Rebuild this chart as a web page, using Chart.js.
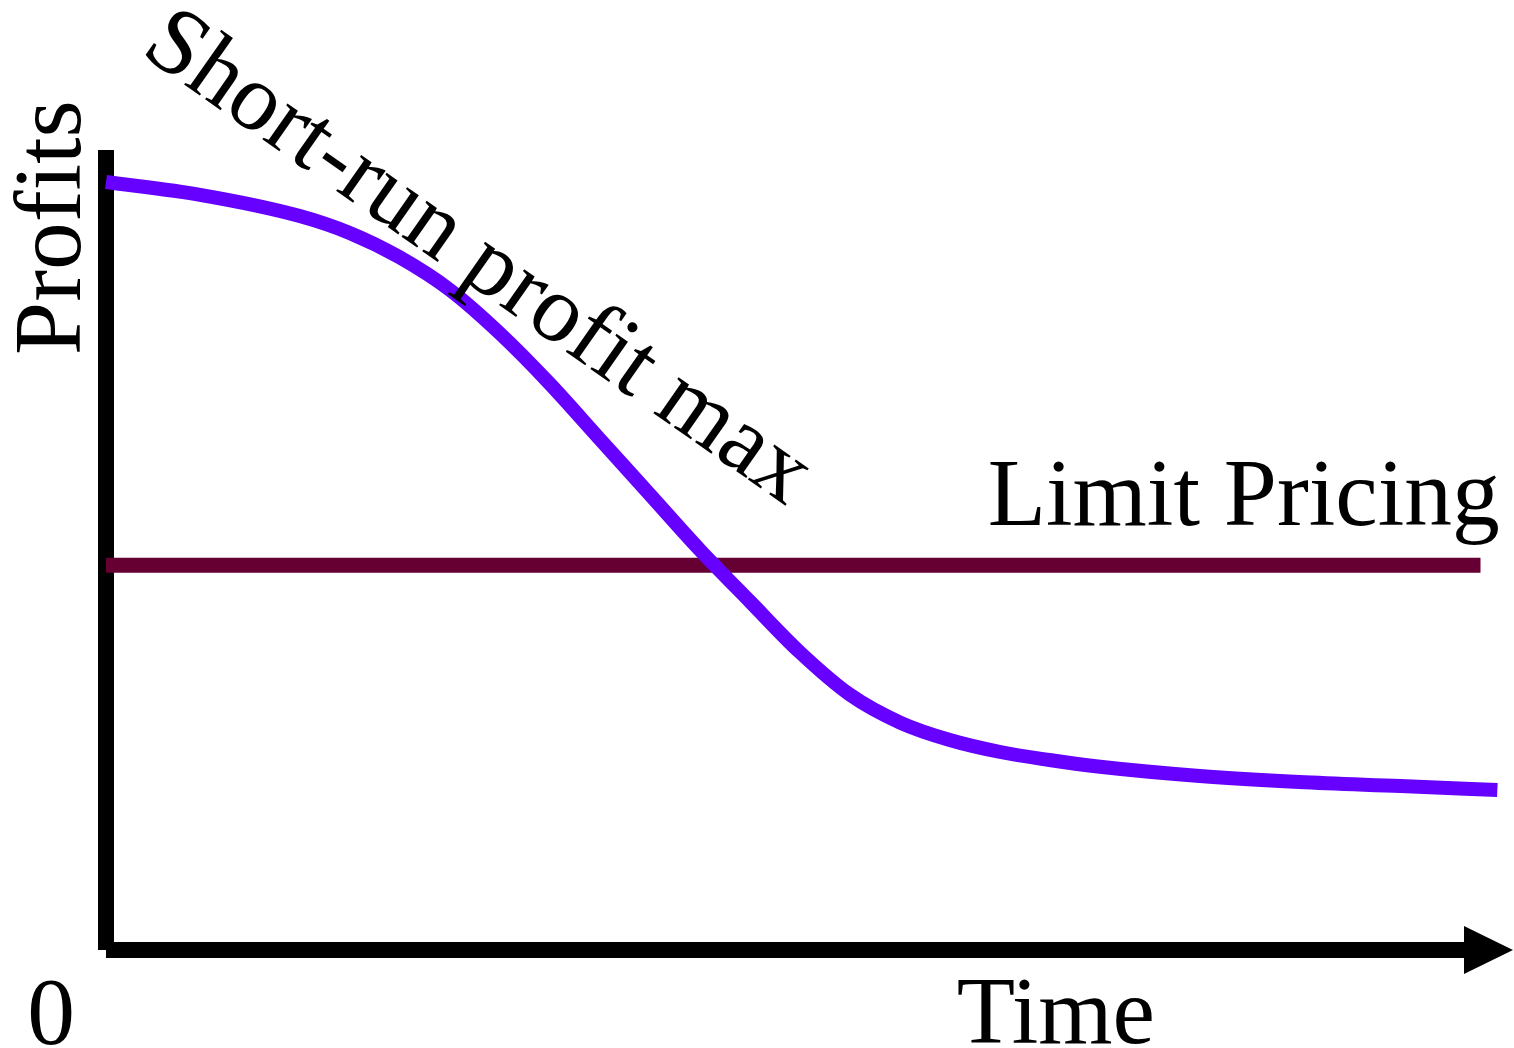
<!DOCTYPE html>
<html>
<head>
<meta charset="utf-8">
<script src="https://cdn.jsdelivr.net/npm/chart.js@4/dist/chart.umd.min.js"></script>
<style>
  html, body { margin: 0; padding: 0; background: #ffffff; }
  #wrap { width: 1514px; height: 1048px; }
</style>
</head>
<body>
<div id="wrap"><canvas id="c" width="1514" height="1048"></canvas></div>
<script>
// ---- data (time 0..100, profits 0..100) ----
const shortRunTime    = [0, 6.7, 13.8, 17.4, 20.9, 24.5, 28.1, 31.6, 35.2, 38.7, 42.3, 45.9, 49.4, 53.0, 56.6, 60.1, 63.7, 67.2, 70.8, 77.9, 85.0, 92.2, 99.1];
const shortRunProfits = [96.0, 94.4, 91.75, 89.6, 86.6, 82.5, 77.0, 70.8, 63.8, 57.0, 50.0, 43.5, 37.25, 31.9, 28.4, 26.25, 24.75, 23.75, 22.9, 21.75, 21.0, 20.5, 20.0];
const limitTime    = [0, 97.9];
const limitProfits = [48.1, 48.1];

const seriesNames = ["Short-run profit max", "Limit Pricing"];
const axisTitles  = { x: "Time", y: "Profits", origin: "0" };

// label anchors in data units
const labelShortRun = { x: 25.4, y: 83.8, angle: 35 };
const labelLimit    = { x: 62.8, y: 53.1 };
const labelTime     = { x: 60.6, y: -11.6 };
const labelOrigin   = { x: -3.9, y: -11.75 };
const labelProfits  = { x: -1.85, y: 90.3 };

const FONT = '"Liberation Serif", "Times New Roman", serif';

const toPts = (xs, ys) => xs.map((v, i) => ({ x: v, y: ys[i] }));

const decorPlugin = {
  id: 'decor',
  beforeDatasetsDraw(chart) {
    const ctx = chart.ctx;
    const xs = chart.scales.x, ys = chart.scales.y;
    const x0 = xs.getPixelForValue(0), y0 = ys.getPixelForValue(0);
    const yTop = ys.getPixelForValue(100);
    const xEnd = xs.getPixelForValue(100);
    ctx.save();
    ctx.fillStyle = '#000000';
    // y axis
    ctx.fillRect(x0 - 8, yTop, 16, y0 - yTop);
    // x axis
    const arrowBase = xEnd - 46;
    ctx.fillRect(x0, y0 - 8, arrowBase - x0, 16);
    // arrow head
    ctx.beginPath();
    ctx.moveTo(arrowBase, y0 - 24);
    ctx.lineTo(xEnd + 3, y0);
    ctx.lineTo(arrowBase, y0 + 24);
    ctx.closePath();
    ctx.fill();
    ctx.restore();
  },
  afterDatasetsDraw(chart) {
    const ctx = chart.ctx;
    const xs = chart.scales.x, ys = chart.scales.y;
    const px = p => xs.getPixelForValue(p.x), py = p => ys.getPixelForValue(p.y);
    ctx.save();
    ctx.fillStyle = '#000000';
    ctx.font = '95.5px ' + FONT;
    ctx.textBaseline = 'alphabetic';

    // Limit Pricing
    ctx.textAlign = 'left';
    ctx.fillText(seriesNames[1], px(labelLimit), py(labelLimit));
    // Time
    ctx.fillText(axisTitles.x, px(labelTime), py(labelTime));
    // 0
    ctx.textAlign = 'center';
    ctx.fillText(axisTitles.origin, px(labelOrigin), py(labelOrigin));

    // Short-run profit max (rotated)
    ctx.save();
    ctx.translate(px(labelShortRun), py(labelShortRun));
    ctx.rotate(labelShortRun.angle * Math.PI / 180);
    ctx.textAlign = 'center';
    ctx.fillText(seriesNames[0], 0, 0);
    ctx.restore();

    // Profits (vertical)
    ctx.save();
    ctx.translate(px(labelProfits), py(labelProfits));
    ctx.rotate(-Math.PI / 2);
    ctx.textAlign = 'center';
    ctx.fillText(axisTitles.y, 0, 0);
    ctx.restore();

    ctx.restore();
  }
};

function build() {
  new Chart(document.getElementById('c'), {
    type: 'line',
    data: {
      datasets: [
        {
          label: seriesNames[1],
          data: toPts(limitTime, limitProfits),
          borderColor: '#660033',
          borderWidth: 15,
          pointRadius: 0,
          borderCapStyle: 'butt',
          fill: false,
          clip: false,
          order: 2
        },
        {
          label: seriesNames[0],
          data: toPts(shortRunTime, shortRunProfits),
          borderColor: '#6600FF',
          borderWidth: 14,
          pointRadius: 0,
          cubicInterpolationMode: 'monotone',
          borderCapStyle: 'butt',
          fill: false,
          clip: false,
          order: 1
        }
      ]
    },
    options: {
      responsive: false,
      animation: false,
      events: [],
      layout: { padding: { left: 106, right: 4, top: 150, bottom: 98 } },
      plugins: { legend: { display: false }, tooltip: { enabled: false } },
      scales: {
        x: { type: 'linear', min: 0, max: 100, display: false },
        y: { type: 'linear', min: 0, max: 100, display: false }
      }
    },
    plugins: [decorPlugin]
  });
}

if (document.fonts && document.fonts.load) {
  document.fonts.load('95.5px "Liberation Serif"').then(build, build);
} else {
  build();
}
</script>
</body>
</html>
